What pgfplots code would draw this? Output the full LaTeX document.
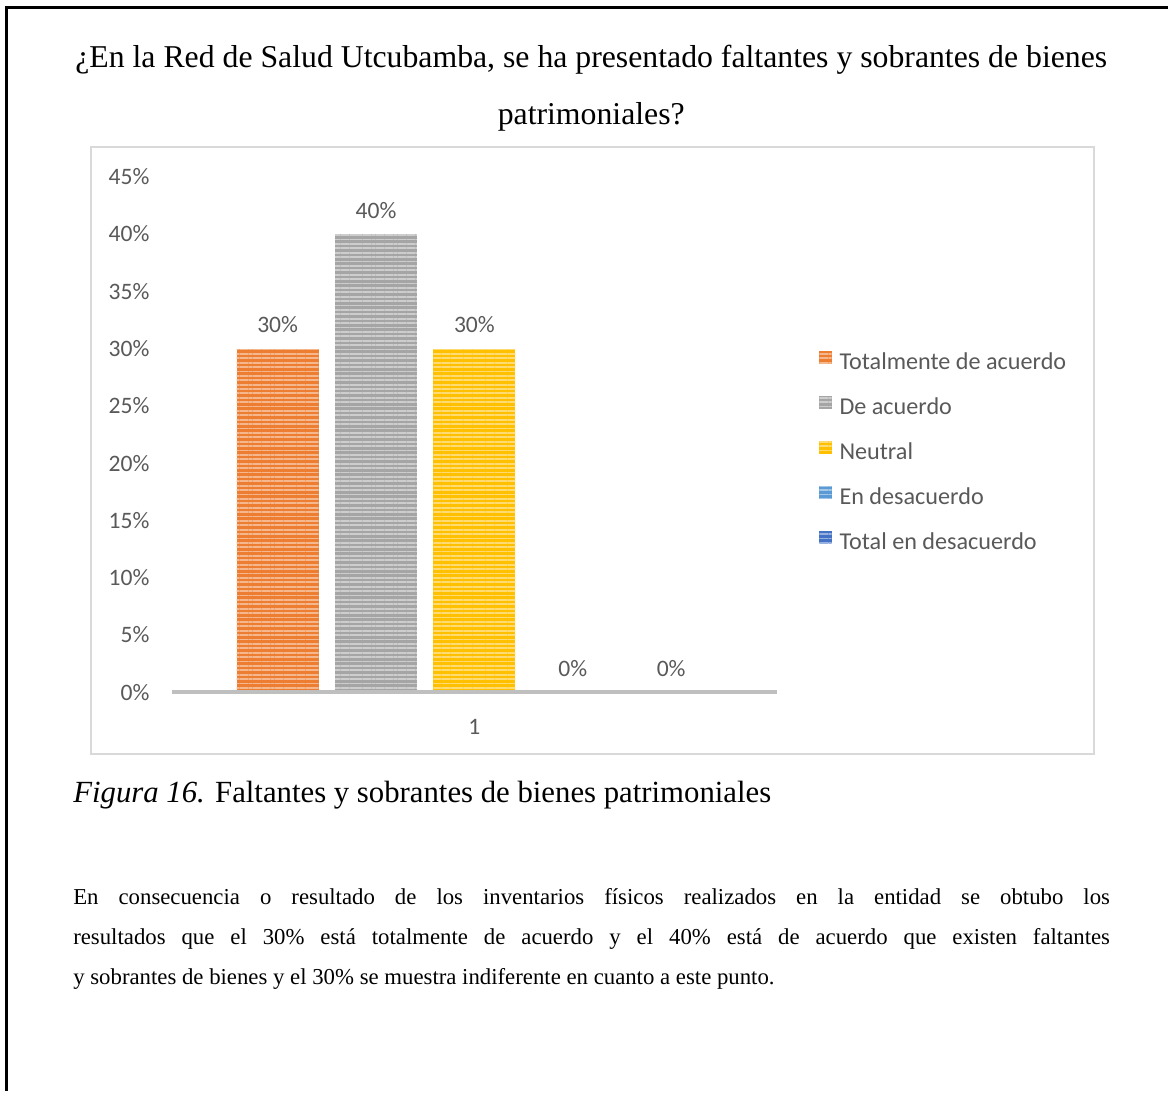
\documentclass[border=0pt]{standalone}
\usepackage{fontspec}
\setmainfont{Liberation Serif}
\newfontfamily\calibri{Carlito}
\usepackage{pgfplots}
\pgfplotsset{compat=1.18}
\usetikzlibrary{patterns.meta}

\definecolor{cOrange}{HTML}{ED7D31}
\definecolor{cGray}{HTML}{A5A5A5}
\definecolor{cYellow}{HTML}{FFC000}
\definecolor{cBlue}{HTML}{5B9BD5}
\definecolor{cDark}{HTML}{4472C4}
\definecolor{txt}{HTML}{595959}
\definecolor{frame}{HTML}{D9D9D9}
\definecolor{axl}{HTML}{BFBFBF}

\pgfplotsset{
  stripe/.style={fill=#1, draw=none,
    postaction={pattern={Lines[angle=0,distance=2.2pt,line width=0.9pt]},
                pattern color=white!45!#1}},
}

\begin{document}
\begin{tikzpicture}
% page frame, 1 px = 0.5pt
\begin{scope}[x=0.5pt,y=-0.5pt]
  \path (0,0) rectangle (1169,1092);
  \draw[line width=1.5pt] (7,1092) -- (7,8) -- (1169,8);
  \draw[frame, line width=1pt] (91,147) rectangle (1095,755);
  \coordinate (orig) at (172,693);
  \node[anchor=base, inner sep=0, font=\fontsize{15.9}{18}\selectfont] at (592,68)
    {¿En la Red de Salud Utcubamba, se ha presentado faltantes y sobrantes de bienes};
  \node[anchor=base, inner sep=0, font=\fontsize{15.9}{18}\selectfont] at (592,125) {patrimoniales?};
  \node[anchor=base west, inner sep=0, font=\fontsize{15.4}{18}\selectfont] at (73,804)
    {\textit{Figura 16.} Faltantes y sobrantes de bienes patrimoniales};
  \node[anchor=base west, inner sep=0, font=\fontsize{11.4}{14}\selectfont] at (73,906)
    {\makebox[519pt][s]{En consecuencia o resultado de los inventarios físicos realizados en la entidad se obtubo los}};
  \node[anchor=base west, inner sep=0, font=\fontsize{11.4}{14}\selectfont] at (73,946)
    {\makebox[519pt][s]{resultados que el 30\% está totalmente de acuerdo y el 40\% está de acuerdo que existen faltantes}};
  \node[anchor=base west, inner sep=0, font=\fontsize{11.4}{14}\selectfont] at (73,986)
    {y sobrantes de bienes y el 30\% se muestra indiferente en cuanto a este punto.};
\end{scope}

\begin{axis}[
    at={(orig)}, anchor=south west,
    scale only axis,
    width=303pt, height=258pt,
    ybar=8.25pt, bar width=41pt,
    xmin=0.5, xmax=1.5, ymin=0, ymax=45,
    xtick={1}, xticklabels={1},
    ytick={0,5,...,45},
    yticklabel={\pgfmathprintnumber{\tick}\%},
    /pgf/number format/assume math mode=true,
    major tick length=0pt,
    axis on top,
    axis x line=bottom, axis y line=left,
    x axis line style={-, draw=axl, line width=1.8pt},
    y axis line style={draw=none},
    ticklabel style={font=\calibri\fontsize{11.8}{13}\selectfont, text=txt},
    yticklabel style={inner sep=0pt, anchor=east, xshift=-11pt},
    xticklabel style={inner sep=0pt, anchor=center, yshift=-17.5pt},
    nodes near coords={\pgfmathprintnumber{\pgfplotspointmeta}\%},
    nodes near coords style={font=\calibri\fontsize{11.8}{13}\selectfont, text=txt,
      anchor=base, inner sep=0pt, yshift=8pt},
    legend image code/.code={\path[#1] (0pt,0.6pt) rectangle (6.2pt,6.8pt);},
    legend cell align=left,
    legend style={draw=none, fill=none, inner sep=0pt,
      at={(rel axis cs:1.069,0.465)}, anchor=west,
      font=\calibri\fontsize{12.1}{13}\selectfont, text=txt,
      column sep=4pt, row sep=11.2pt,
      nodes={inner sep=0pt, text height=7pt, text depth=2pt}},
  ]
  \addplot[stripe=cOrange] coordinates {(1,30)};
  \addlegendentry{Totalmente de acuerdo}
  \addplot[stripe=cGray] coordinates {(1,40)};
  \addlegendentry{De acuerdo}
  \addplot[stripe=cYellow] coordinates {(1,30)};
  \addlegendentry{Neutral}
  \addplot[stripe=cBlue] coordinates {(1,0)};
  \addlegendentry{En desacuerdo}
  \addplot[stripe=cDark] coordinates {(1,0)};
  \addlegendentry{Total en desacuerdo}
\end{axis}
\end{tikzpicture}
\end{document}
